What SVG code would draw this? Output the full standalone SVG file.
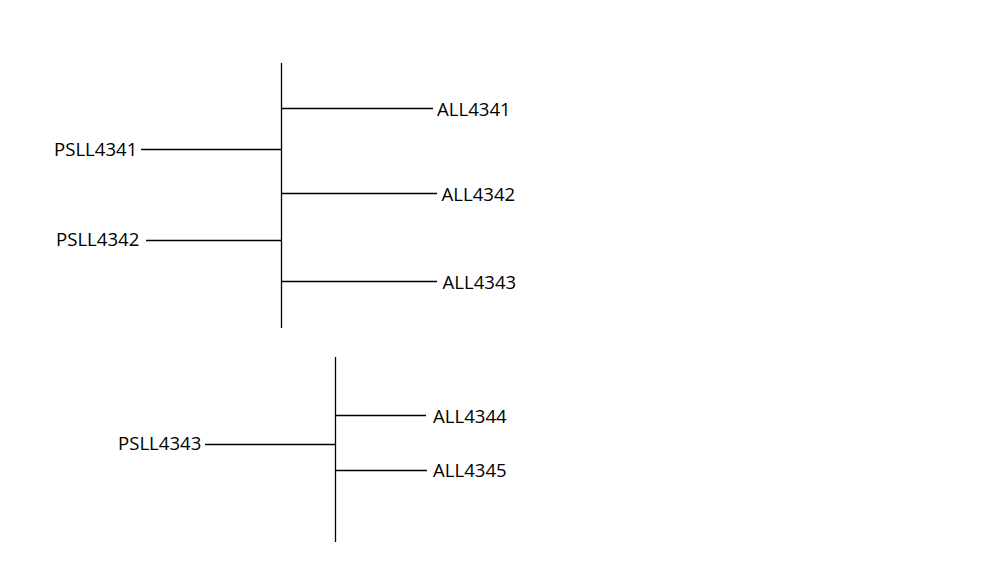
<svg xmlns="http://www.w3.org/2000/svg" width="1007" height="573" viewBox="0 0 1007 573">
<style>
.c line{stroke:#000;stroke-width:1.3;fill:none}
text{font-family:"Open Sans","Liberation Sans",sans-serif;font-size:18.6px;fill:#000}
</style>
<rect width="1007" height="573" fill="#fff"/>
<g id="connectors" class="c">
<line x1="281.5" y1="63" x2="281.5" y2="328"/>
<line x1="281.5" y1="108.5" x2="433" y2="108.5"/>
<line x1="141" y1="149.5" x2="281.5" y2="149.5"/>
<line x1="281.5" y1="193.5" x2="437" y2="193.5"/>
<line x1="146" y1="240.5" x2="281.5" y2="240.5"/>
<line x1="281.5" y1="281.5" x2="437" y2="281.5"/>
<line x1="335.5" y1="357" x2="335.5" y2="542"/>
<line x1="335.5" y1="415.5" x2="426" y2="415.5"/>
<line x1="205" y1="444.5" x2="335.5" y2="444.5"/>
<line x1="335.5" y1="470.5" x2="427" y2="470.5"/>
</g>
<g id="ALL4341"><text x="437" y="116">ALL4341</text></g>
<g id="PSLL4341"><text x="54" y="156">PSLL4341</text></g>
<g id="ALL4342"><text x="441.5" y="201">ALL4342</text></g>
<g id="PSLL4342"><text x="56" y="246">PSLL4342</text></g>
<g id="ALL4343"><text x="442.5" y="289">ALL4343</text></g>
<g id="PSLL4343"><text x="118" y="450">PSLL4343</text></g>
<g id="ALL4344"><text x="433" y="423">ALL4344</text></g>
<g id="ALL4345"><text x="433" y="477">ALL4345</text></g>
</svg>
